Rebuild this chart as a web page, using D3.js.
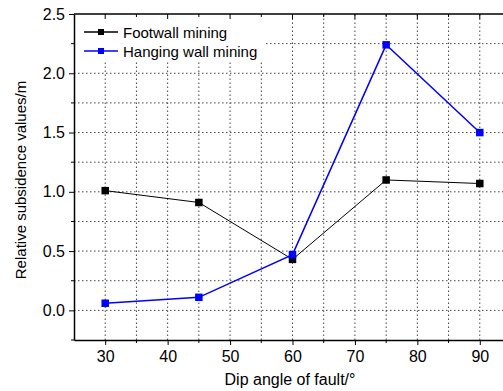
<!DOCTYPE html>
<html><head><meta charset="utf-8">
<script src="https://cdn.jsdelivr.net/npm/d3@7"></script>
<style>body{margin:0;background:#fff}svg{display:block}</style>
</head><body>
<script>
const dipAngles = [30, 45, 60, 75, 90];
const footwall = [1.01, 0.91, 0.43, 1.10, 1.07];
const hanging = [0.06, 0.11, 0.47, 2.24, 1.50];
const seriesNames = ["Footwall mining", "Hanging wall mining"];
const seriesColors = ["#000000", "#0000ff"];
const xTicks = [30, 40, 50, 60, 70, 80, 90];
const yTicks = [0.0, 0.5, 1.0, 1.5, 2.0, 2.5];

const W = 503, H = 391;
const m = {left: 74, top: 14, right: -8, bottom: 51};
const svg = d3.select("body").append("svg").attr("width", W).attr("height", H)
  .style("font-family", "Arial, 'Liberation Sans', sans-serif");
const x = d3.scaleLinear().domain([25, 95]).range([m.left, W - m.right]);
const y = d3.scaleLinear().domain([-0.25, 2.5]).range([H - m.bottom, m.top]);

const g = svg.append("g");
// grid
const xGrid = d3.range(30, 95, 5);
const yGrid = d3.range(0, 2.5, 0.25);
g.selectAll(".vg").data(xGrid).join("line")
  .attr("x1", d => x(d)).attr("x2", d => x(d))
  .attr("y1", y(-0.25)).attr("y2", y(2.5))
  .attr("stroke", "#444").attr("stroke-width", 1).attr("stroke-dasharray", "1.5,2.5");
g.selectAll(".hg").data(yGrid).join("line")
  .attr("x1", x(25)).attr("x2", x(95))
  .attr("y1", d => y(d)).attr("y2", d => y(d))
  .attr("stroke", "#444").attr("stroke-width", 1).attr("stroke-dasharray", "1.5,2.5");

// legend background
svg.append("rect").attr("x", m.left + 1).attr("y", m.top + 1).attr("width", 190).attr("height", 46).attr("fill", "#fff");

// axes
const fmt = d3.format(".1f");
const xAxis = d3.axisBottom(x).tickValues(xTicks).tickSize(5).tickSizeOuter(0).tickPadding(6);
const gx = svg.append("g").attr("transform", `translate(0,${y(-0.25)})`).call(xAxis);
gx.selectAll("text").attr("font-size", 16).attr("fill", "#000");
// minor x ticks
svg.selectAll(".xm").data([35, 45, 55, 65, 75, 85]).join("line")
  .attr("x1", d => x(d)).attr("x2", d => x(d))
  .attr("y1", y(-0.25)).attr("y2", y(-0.25) + 3).attr("stroke", "#000");

const yAxis = d3.axisLeft(y).tickValues(yTicks).tickFormat(fmt).tickSize(5).tickSizeOuter(0).tickPadding(4);
const gy = svg.append("g").attr("transform", `translate(${m.left},0)`).call(yAxis);
gy.selectAll("text").attr("font-size", 16).attr("fill", "#000");
svg.selectAll(".ym").data([-0.25, 0.25, 0.75, 1.25, 1.75, 2.25]).join("line")
  .attr("x1", m.left - 3).attr("x2", m.left)
  .attr("y1", d => y(d)).attr("y2", d => y(d)).attr("stroke", "#000");
// top axis
svg.append("line").attr("x1", m.left).attr("x2", W).attr("y1", y(2.5)).attr("y2", y(2.5)).attr("stroke", "#000").attr("stroke-width", 1.5);
svg.selectAll(".tt").data(xGrid).join("line")
  .attr("x1", d => x(d)).attr("x2", d => x(d))
  .attr("y1", y(2.5)).attr("y2", d => y(2.5) + (d % 10 === 0 ? 5 : 3)).attr("stroke", "#000");
gx.select(".domain").attr("stroke-width", 1.5);
gy.select(".domain").attr("stroke-width", 1.5);

// series
const series = [footwall, hanging];
series.forEach((vals, i) => {
  const pts = dipAngles.map((a, j) => [a, vals[j]]);
  svg.append("path").datum(pts)
    .attr("d", d3.line().x(d => x(d[0])).y(d => y(d[1])))
    .attr("fill", "none").attr("stroke", seriesColors[i]).attr("stroke-width", i === 0 ? 1 : 1.5);
  svg.selectAll(".m" + i).data(pts).join("rect")
    .attr("x", d => x(d[0]) - 3.75).attr("y", d => y(d[1]) - 3.75)
    .attr("width", 7.5).attr("height", 7.5).attr("fill", seriesColors[i]);
});

// legend
seriesNames.forEach((n, i) => {
  const ly = 32 + i * 19;
  svg.append("line").attr("x1", 84).attr("x2", 118).attr("y1", ly).attr("y2", ly)
    .attr("stroke", seriesColors[i]).attr("stroke-width", 1.5);
  svg.append("rect").attr("x", 101 - 3).attr("y", ly - 3).attr("width", 6).attr("height", 6).attr("fill", seriesColors[i]);
  svg.append("text").attr("x", 123).attr("y", ly + 5.5).attr("font-size", 15).text(n);
});

// titles
svg.append("text").attr("x", 290).attr("y", 385).attr("text-anchor", "middle").attr("font-size", 16).text("Dip angle of fault/°");
svg.append("text").attr("transform", `translate(26,180) rotate(-90)`).attr("text-anchor", "middle")
  .attr("font-size", 15).text("Relative subsidence values/m");
</script>
</body></html>
